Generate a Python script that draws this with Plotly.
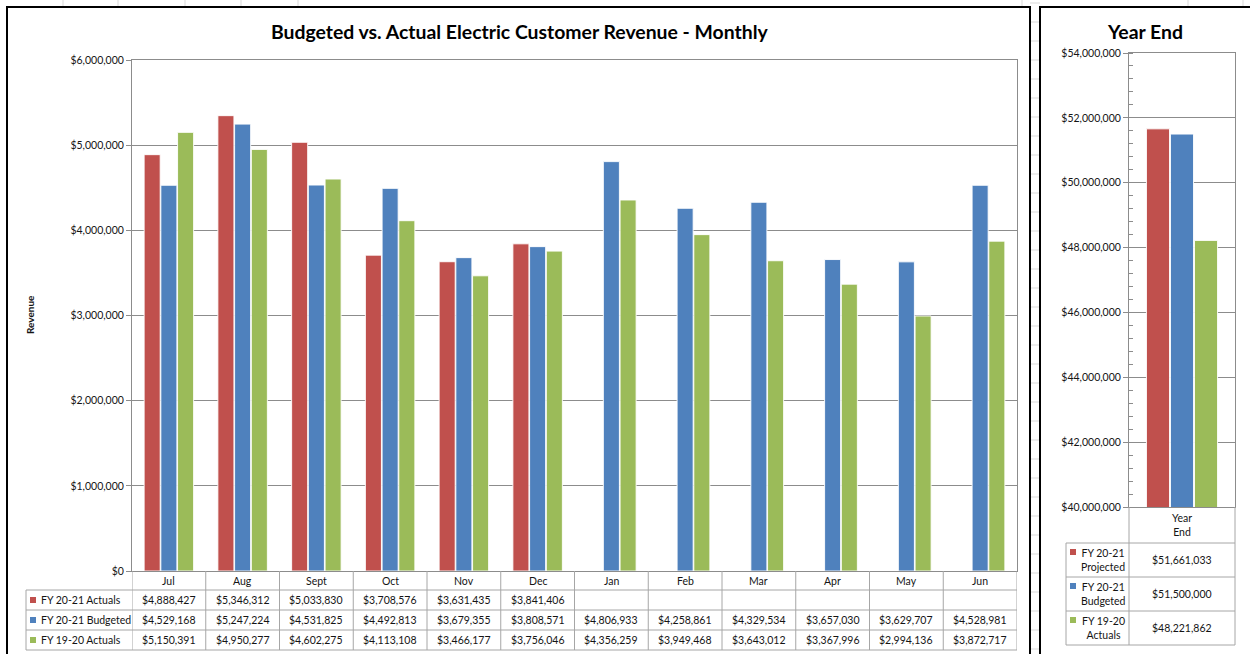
import plotly.graph_objects as go

# ---------------- data ----------------
months = ["Jul", "Aug", "Sept", "Oct", "Nov", "Dec", "Jan", "Feb", "Mar", "Apr", "May", "Jun"]
series_names = ["FY 20-21 Actuals", "FY 20-21 Budgeted", "FY 19-20 Actuals"]
actuals_2021 = [4888427, 5346312, 5033830, 3708576, 3631435, 3841406, None, None, None, None, None, None]
budget_2021 = [4529168, 5247224, 4531825, 4492813, 3679355, 3808571, 4806933, 4258861, 4329534, 3657030, 3629707, 4528981]
actuals_1920 = [5150391, 4950277, 4602275, 4113108, 3466177, 3756046, 4356259, 3949468, 3643012, 3367996, 2994136, 3872717]

ye_category = "Year End"
ye_names = ["FY 20-21<br>Projected", "FY 20-21<br>Budgeted", "FY 19-20<br>Actuals"]
ye_values = [51661033, 51500000, 48221862]

colors = ["#C0504D", "#4F81BD", "#9BBB59"]

# ---------------- layout helpers ----------------
W, H = 1250, 654
FONT = "Lato"
TXT = "#141414"
GRID = "#8C8C8C"
TLINE = "#A6A6A6"
FS = 10.5


def px(x):
    return x / W


def py(y):
    return 1 - y / H


def money(v):
    return "" if v is None else f"${v:,.0f}"


def ann(x, y, text, xref="paper", yref="paper", xanchor="center", yanchor="middle", size=FS, **kw):
    return dict(x=x, y=y, xref=xref, yref=yref, text=text, showarrow=False, xanchor=xanchor, yanchor=yanchor,
                font=dict(family=FONT, size=size, color=kw.pop("color", TXT)), **kw)


fig = go.Figure()

monthly = [actuals_2021, budget_2021, actuals_1920]
for name, vals, c in zip(series_names, monthly, colors):
    fig.add_trace(go.Bar(x=months, y=vals, name=name,
                         marker=dict(color=c, line=dict(color="rgba(255,255,255,0.9)", width=1)),
                         xaxis="x", yaxis="y", showlegend=False))

for name, v, c in zip(ye_names, ye_values, colors):
    fig.add_trace(go.Bar(x=[ye_category], y=[v], name=name,
                         marker=dict(color=c, line=dict(color="rgba(255,255,255,0.9)", width=1)),
                         xaxis="x2", yaxis="y2", showlegend=False))

shapes = []
annotations = []

# spreadsheet grid lines behind the charts (gap between panels)
for y in range(3, H, 19):
    shapes.append(dict(type="line", xref="paper", yref="paper", x0=px(1030), x1=px(1040), y0=py(y), y1=py(y),
                       line=dict(color="#D9D9D9", width=1), layer="below"))
for x in [63, 118, 185, 241, 298, 1022, 1188, 1243]:
    shapes.append(dict(type="line", xref="paper", yref="paper", x0=px(x), x1=px(x), y0=py(0), y1=py(6),
                       line=dict(color="#D9D9D9", width=1), layer="below"))

# chart frames
shapes.append(dict(type="rect", xref="paper", yref="paper", x0=px(7), x1=px(1030), y0=py(7), y1=py(680),
                   line=dict(color="black", width=2), fillcolor="white", layer="below"))
shapes.append(dict(type="rect", xref="paper", yref="paper", x0=px(1040), x1=px(1290), y0=py(7), y1=py(680),
                   line=dict(color="black", width=2), fillcolor="white", layer="below"))

# ---------------- main data table ----------------
rows_y = [590, 610, 630, 650]
for y in rows_y:
    shapes.append(dict(type="line", xref="paper", yref="paper", x0=px(26), x1=px(1017), y0=py(y), y1=py(y),
                       line=dict(color=TLINE, width=1)))
shapes.append(dict(type="line", xref="paper", yref="paper", x0=px(26), x1=px(26), y0=py(590), y1=py(650),
                   line=dict(color=TLINE, width=1)))
for i in range(len(months) + 1):
    shapes.append(dict(type="line", xref="x", yref="paper", x0=i - 0.5, x1=i - 0.5, y0=py(571), y1=py(650),
                       line=dict(color=TLINE, width=1)))
for m in months:
    annotations.append(ann(m, py(580.5), m, xref="x"))
for r, (name, vals, c) in enumerate(zip(series_names, monthly, colors)):
    yc = (rows_y[r] + rows_y[r + 1]) / 2
    shapes.append(dict(type="rect", xref="paper", yref="paper", x0=px(30), x1=px(36), y0=py(yc + 3), y1=py(yc - 3),
                       line=dict(width=0), fillcolor=c))
    annotations.append(ann(px(39), py(yc), name, xanchor="left"))
    for m, v in zip(months, vals):
        if v is not None:
            annotations.append(ann(m, py(yc), money(v), xref="x"))

# ---------------- year end table ----------------
for xv in (1129, 1235):
    shapes.append(dict(type="line", xref="paper", yref="paper", x0=px(xv), x1=px(xv), y0=py(507), y1=py(645),
                       line=dict(color=TLINE, width=1)))
shapes.append(dict(type="line", xref="paper", yref="paper", x0=px(1066), x1=px(1066), y0=py(543), y1=py(645),
                   line=dict(color=TLINE, width=1)))
ye_rows = [543, 577, 611, 645]
for y in ye_rows:
    shapes.append(dict(type="line", xref="paper", yref="paper", x0=px(1066), x1=px(1235), y0=py(y), y1=py(y),
                       line=dict(color=TLINE, width=1)))
annotations.append(ann(ye_category, py(525), "Year<br>End", xref="x2"))
for r, (name, v, c) in enumerate(zip(ye_names, ye_values, colors)):
    yc = (ye_rows[r] + ye_rows[r + 1]) / 2
    shapes.append(dict(type="rect", xref="paper", yref="paper", x0=px(1070), x1=px(1076), y0=py(yc - 5), y1=py(yc - 11),
                       line=dict(width=0), fillcolor=c))
    annotations.append(ann(px(1103), py(yc), name, align="center"))
    annotations.append(ann(ye_category, py(yc), money(v), xref="x2"))

# titles
annotations.append(ann(px(519), py(32), "<b>Budgeted vs. Actual Electric Customer Revenue - Monthly</b>",
                       size=19.4, color="black"))
annotations.append(ann(px(1145), py(31), "<b>Year End</b>", size=19.4, color="black"))
annotations.append(ann(px(30), py(315), "<b>Revenue</b>", size=10, textangle=-90))

axis_common = dict(showline=True, linecolor=GRID, linewidth=1, mirror=True)

fig.update_layout(
    width=W, height=H,
    margin=dict(l=0, r=0, t=0, b=0, autoexpand=False),
    paper_bgcolor="white", plot_bgcolor="white",
    barmode="group", bargap=0.32, bargroupgap=0.04,
    font=dict(family=FONT, size=FS, color=TXT),
    xaxis=dict(domain=[px(132), px(1017)], anchor="y", type="category", range=[-0.5, 11.5],
               showticklabels=False, ticks="", showgrid=False, **axis_common),
    yaxis=dict(domain=[py(571), py(60)], anchor="x", range=[0, 6000000], dtick=1000000, tickformat="$,.0f",
               showgrid=True, gridcolor=GRID, gridwidth=1, ticks="outside", ticklen=5, tickcolor=GRID,
               zeroline=False, automargin=False, tickfont=dict(family=FONT, size=FS, color=TXT), **axis_common),
    xaxis2=dict(domain=[px(1129), px(1235)], anchor="y2", type="category",
                showticklabels=False, ticks="", showgrid=False, **axis_common),
    yaxis2=dict(domain=[py(507), py(53)], anchor="x2", range=[40000000, 54000000], dtick=2000000,
                tickformat="$,.0f", showgrid=True, gridcolor=GRID, gridwidth=1, ticks="outside", ticklen=5,
                tickcolor=GRID, zeroline=False, automargin=False, tickfont=dict(family=FONT, size=FS, color=TXT),
                minor=dict(dtick=400000, ticks="inside", ticklen=4, tickcolor=GRID, showgrid=False),
                **axis_common),
    shapes=shapes,
    annotations=annotations,
)

fig.write_html("out.html", config={"displayModeBar": False},
               post_script="document.body.style.margin='0';document.body.style.overflow='hidden';")
